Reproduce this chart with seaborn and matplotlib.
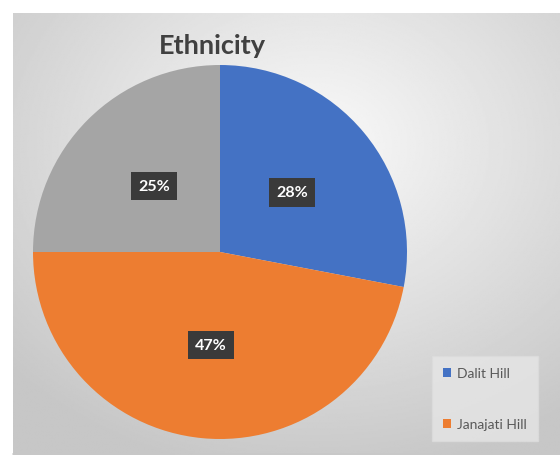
import numpy as np
import matplotlib
matplotlib.use("Agg")
import matplotlib.pyplot as plt
import seaborn as sns
from matplotlib.patches import Patch

categories = ["Dalit Hill", "Janajati Hill", "Other"]
values = [28, 47, 25]
legend_labels = ["Dalit Hill", "Janajati Hill"]
title = "Ethnicity"

sns.set_theme(style="white")
plt.rcParams['font.family'] = ['Lato', 'DejaVu Sans']
colors = ["#4472C4", "#ED7D31", "#A5A5A5"]

W, H = 560, 456
fig = plt.figure(figsize=(W / 100, H / 100), dpi=100)
fig.patch.set_facecolor("white")

# background gradient panel
bx0, by0 = 13 / W, 0
bw, bh = 1 - bx0, (H - 14) / H
bg = fig.add_axes([bx0, by0, bw, bh])
yy, xx = np.mgrid[0:1:300j, 0:1:360j]
d = np.sqrt(((xx - 0.55) / 0.75) ** 2 + ((yy - 0.3) / 0.75) ** 2)
g = np.clip(0.98 - 0.2 * d, 0.78, 0.98)
bg.imshow(g, cmap="gray", vmin=0, vmax=1, aspect="auto", extent=[0, 1, 1, 0])
bg.set_axis_off()
bg.plot([0, 1], [0.003, 0.003], color="#c8c8c8", lw=1.2, transform=bg.transAxes, clip_on=False)

# pie
ax = fig.add_axes([33 / W, (H - 440) / H, 374 / W, 374 / H])
ax.set_facecolor("none")
wedges, texts, autotexts = ax.pie(
    values, colors=colors, startangle=90, counterclock=False,
    autopct="%1.0f%%", pctdistance=0.5, shadow=False,
    wedgeprops=dict(linewidth=0),
    textprops=dict(color="white", fontsize=11.5, fontweight="bold"),
)
for t in autotexts:
    t.set_bbox(dict(boxstyle="square,pad=0.45", facecolor="#3a3a3a", edgecolor="none"))
ax.set_xlim(-1.0, 1.0)
ax.set_ylim(-1.0, 1.0)
ax.set_aspect("equal")
ax.set_axis_off()

fig.text(212 / W, 1 - 46 / H, title, ha="center", va="center",
         fontsize=19.5, fontweight="bold", color="#404040")

handles = [Patch(facecolor=colors[i], edgecolor="none") for i in range(len(legend_labels))]
leg = fig.legend(handles, legend_labels, loc="upper left",
                 bbox_to_anchor=(432 / W, 1 - 357 / H), frameon=True, borderaxespad=0,
                 fontsize=10, labelspacing=2.8, handlelength=0.6, handleheight=0.6,
                 handletextpad=0.4, borderpad=0.8, fancybox=False)
leg.get_frame().set_facecolor("#e6e6e6")
leg.get_frame().set_edgecolor("#dcdcdc")
for t in leg.get_texts():
    t.set_color("#595959")

fig.savefig("out.png", dpi=100)
